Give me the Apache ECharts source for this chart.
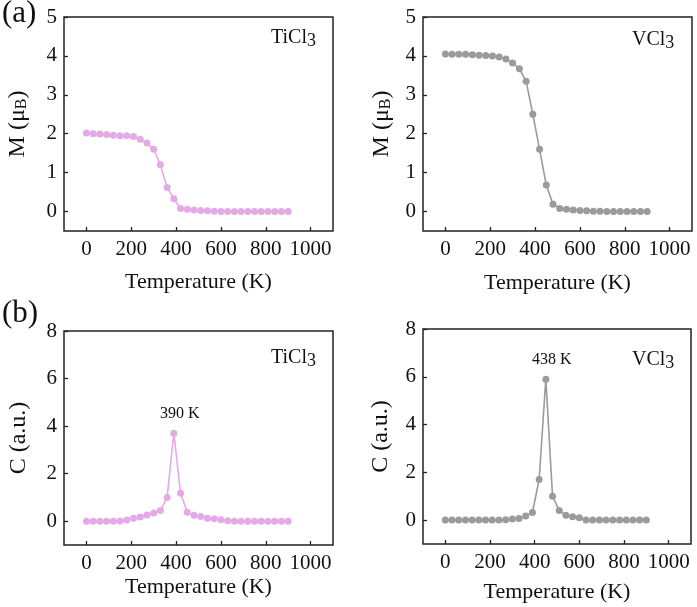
<!DOCTYPE html>
<html>
<head>
<meta charset="utf-8">
<script src="https://cdn.jsdelivr.net/npm/echarts@6/dist/echarts.min.js"></script>
<style>
html,body{margin:0;padding:0;background:#fff;}
#chart{width:697px;height:607px;}
</style>
</head>
<body>
<div id="chart"></div>
<script>
var temps = [0,30,60,90,120,150,180,210,240,270,300,330,360,390,420,450,480,510,540,570,600,630,660,690,720,750,780,810,840,870,900];
var mTiCl3 = [2.02,2.00,1.99,1.98,1.96,1.95,1.95,1.93,1.86,1.76,1.60,1.20,0.62,0.33,0.08,0.06,0.04,0.03,0.02,0.01,0,0,0,0,0,0,0,0,0,0,0];
var mVCl3 = [4.05,4.04,4.04,4.04,4.03,4.02,4.01,4.00,3.97,3.92,3.82,3.67,3.35,2.50,1.60,0.68,0.19,0.08,0.06,0.04,0.03,0.02,0.01,0.01,0,0,0,0,0,0,0];
var cTiCl3 = [0,0,0,0,0,0.01,0.05,0.12,0.18,0.26,0.35,0.45,1.00,3.70,1.18,0.38,0.25,0.20,0.13,0.10,0.06,0.02,0,0,0,0,0,0,0,0,0];
var cVCl3 = [0,0,0,0,0,0,0,0,0,0.02,0.05,0.07,0.17,0.32,1.70,5.90,1.00,0.40,0.20,0.14,0.10,0,0,0,0,0,0,0,0,0,0];
var xTicks = [0,200,400,600,800,1000];
var mTicks = [0,1,2,3,4,5];
var cTicks = [0,2,4,6,8];
var peakTi = {t:390, label:'390 K'};
var peakV = {t:450, label:'438 K'};

var FONT = '"Liberation Serif","Times New Roman",serif';
var PINK = '#e5aae5';
var GRAY = '#9b9b9b';

function plain(v){ return String(v); }

function pairs(vals, peak){
  return temps.map(function(t,i){
    var d = {value:[t, vals[i]]};
    if (peak && t === peak.t) {
      d.label = {show:true, formatter:peak.label, position:'top', distance:8, offset:[6,0],
        color:'#111', fontSize:16, fontFamily:FONT};
    }
    return d;
  });
}

function xAxis(idx, gap){
  return {type:'value', gridIndex:idx, min:-100, max:1100,
    name:'Temperature (K)', nameLocation:'middle', nameGap:gap,
    nameTextStyle:{fontFamily:FONT, fontSize:22, color:'#111'},
    axisLine:{show:false, onZero:false}, splitLine:{show:false},
    axisTick:{show:true, inside:true, length:4, customValues:xTicks, lineStyle:{color:'#222', width:1.3}},
    axisLabel:{customValues:xTicks, formatter:plain, fontFamily:FONT, fontSize:21, color:'#111', margin:8}
  };
}
function yAxis(idx, min, max, ticks, name, gap){
  return {type:'value', gridIndex:idx, min:min, max:max,
    name:name, nameLocation:'middle', nameGap:gap, nameRotate:90,
    nameTextStyle:{fontFamily:FONT, fontSize:24, color:'#111',
      rich:{sub:{fontFamily:FONT, fontSize:16, color:'#111', padding:[9,0,0,0]}}},
    axisLine:{show:false, onZero:false}, splitLine:{show:false},
    axisTick:{show:true, inside:true, length:4, customValues:ticks, lineStyle:{color:'#222', width:1.3}},
    axisLabel:{customValues:ticks, formatter:plain, fontFamily:FONT, fontSize:21, color:'#111', margin:7}
  };
}
function series(idx, vals, color, peak){
  return {type:'line', xAxisIndex:idx, yAxisIndex:idx, data:pairs(vals, peak),
    symbol:'circle', symbolSize:7, showSymbol:true,
    lineStyle:{color:color, width:1.6}, itemStyle:{color:color},
    emphasis:{disabled:true}, animation:false, z:3};
}
function gridBox(left, top, w, h){
  return {left:left, top:top, width:w, height:h, show:true, borderColor:'#222', borderWidth:1.5, backgroundColor:'transparent'};
}
function txt(left, top, main){
  return {type:'text', left:left, top:top,
    style:{text:'{m|'+main+'}{s|3}', fontFamily:FONT,
      rich:{m:{fontSize:20, fontFamily:FONT, fill:'#111', color:'#111'},
            s:{fontSize:18, fontFamily:FONT, fill:'#111', color:'#111', padding:[6,0,0,0]}}}};
}

var chart = echarts.init(document.getElementById('chart'), null, {renderer:'canvas'});
chart.setOption({
  animation:false,
  backgroundColor:'#fff',
  grid:[gridBox(64,17,269,214), gridBox(423,17,269,214), gridBox(64,331,269,214), gridBox(423,329,268,215)],
  xAxis:[xAxis(0,40), xAxis(1,41), xAxis(2,31), xAxis(3,37)],
  yAxis:[
    yAxis(0,-0.5,5,mTicks,'M (μ{sub|B})',34),
    yAxis(1,-0.5,5,mTicks,'M (μ{sub|B})',29),
    yAxis(2,-1,8,cTicks,'C (a.u.)',33),
    yAxis(3,-1,8,cTicks,'C (a.u.)',30)
  ],
  series:[
    series(0,mTiCl3,PINK,null),
    series(1,mVCl3,GRAY,null),
    series(2,cTiCl3,PINK,peakTi),
    series(3,cVCl3,GRAY,peakV)
  ],
  graphic:[
    {type:'text', left:2, top:-2, style:{text:'(a)', fontFamily:FONT, fontSize:31, fill:'#111'}},
    {type:'text', left:2, top:298, style:{text:'(b)', fontFamily:FONT, fontSize:31, fill:'#111'}},
    txt(271,28,'TiCl'),
    txt(632,30,'VCl'),
    txt(271,348,'TiCl'),
    txt(632,350,'VCl')
  ]
});
</script>
</body>
</html>
